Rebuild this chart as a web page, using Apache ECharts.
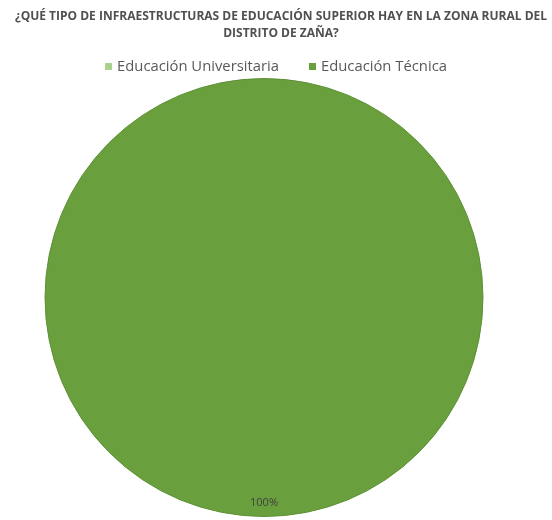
<!DOCTYPE html>
<html><head><meta charset="utf-8">
<script src="https://cdn.jsdelivr.net/npm/echarts@6/dist/echarts.min.js"></script>
<style>html,body{margin:0;padding:0;background:#fff}#c{width:552px;height:520px}</style>
</head><body><div id="c"></div>
<script>
const titleText = '¿QUÉ TIPO DE INFRAESTRUCTURAS DE EDUCACIÓN SUPERIOR HAY EN LA ZONA RURAL DEL\nDISTRITO DE ZAÑA?';
const categories = ['Educación Universitaria', 'Educación Técnica'];
const values = [0, 100];
const colors = ['#a9d08e', '#6a9f3e'];

const data = categories.map((c, i) => ({ name: c, value: values[i], itemStyle: { color: colors[i] } }));
const labelFmt = p => p.value > 0 ? Math.round(p.percent) + '%' : '';

const chart = echarts.init(document.getElementById('c'));
chart.setOption({
  animation: false,
  title: {
    text: titleText, left: 281, textAlign: 'center', top: 8, padding: 0,
    textStyle: { fontFamily: 'Open Sans', fontWeight: 'bold', fontSize: 12, color: '#505050', lineHeight: 17 }
  },
  legend: {
    top: 54, left: 'center', padding: [5, 0, 5, 10], itemWidth: 7, itemHeight: 7, itemGap: 30, icon: 'rect',
    itemStyle: { borderWidth: 0 },
    textStyle: { fontFamily: 'Open Sans', fontSize: 14.8, color: '#595959' },
    data: categories
  },
  series: [
    {
      type: 'pie', center: [264, 297.5], radius: [0, 219], startAngle: 90, clockwise: true,
      data: data, label: { show: false }, labelLine: { show: false },
      itemStyle: { borderColor: '#5e9136', borderWidth: 1 }, silent: true
    },
    {
      type: 'pie', center: [264, 297.5], radius: [186, 219], startAngle: 90, clockwise: true,
      data: categories.map((c, i) => ({ name: c, value: values[i], itemStyle: { color: 'rgba(0,0,0,0)' } })),
      label: { show: true, position: 'inside', formatter: labelFmt, fontFamily: 'Open Sans', fontSize: 11, color: '#3f3f3f' },
      labelLine: { show: false }, silent: true
    }
  ]
});
</script></body></html>
